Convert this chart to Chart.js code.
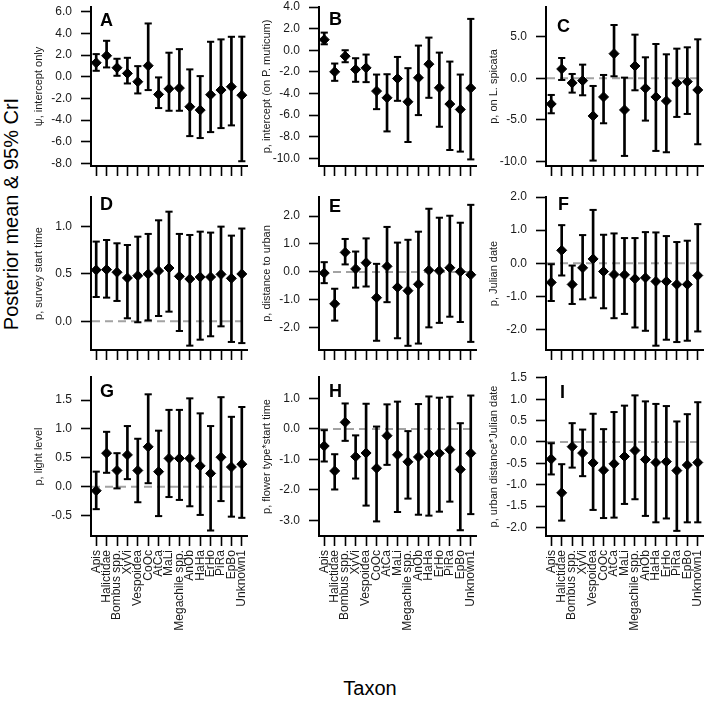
<!DOCTYPE html>
<html><head><meta charset="utf-8">
<script src="https://cdn.jsdelivr.net/npm/chart.js@4.4.1/dist/chart.umd.min.js"></script>
<style>
html,body{margin:0;padding:0;background:#fff;width:709px;height:710px;overflow:hidden;position:relative;}
canvas{position:absolute;}
.t{position:absolute;font-family:"Liberation Sans",Arial,sans-serif;color:#000;white-space:nowrap;line-height:1;}
</style></head><body>
<div class="t" style="font-size:20px;left:11px;top:214px;transform:translate(-50%,-50%) rotate(-90deg);">Posterior mean &amp; 95% CrI</div>
<div class="t" style="font-size:20px;left:370px;top:688px;transform:translate(-50%,-50%);">Taxon</div>
<script>
// ---------- data ----------
const taxa = ['Apis','Halictidae','Bombus spp.','XyVi','Vespoidea','CoOc','AtCa','MaLi','Megachile spp.','AnOb','HaHa','ErHo','PiRa','EpBo','Unknown1'];

const aMean = [1.29,1.94,0.83,0.31,-0.46,1.02,-1.63,-1.11,-1.05,-2.77,-3.08,-1.66,-1.23,-0.92,-1.70];
const aLow  = [0.55,0.86,0.09,-0.62,-1.54,-1.23,-2.89,-3.14,-3.14,-5.48,-5.66,-5.11,-4.74,-4.49,-7.80];
const aHigh = [2.09,3.32,1.66,1.75,0.98,4.92,-0.06,2.22,2.55,0.68,0.06,3.23,3.45,3.69,3.70];

const bMean = [0.98,-2.00,-0.55,-1.78,-1.63,-3.78,-4.40,-2.62,-4.77,-2.55,-1.29,-3.48,-4.98,-5.48,-3.50];
const bLow  = [0.55,-2.83,-1.11,-2.92,-2.95,-5.45,-7.51,-4.68,-8.49,-6.00,-4.40,-7.08,-9.23,-9.38,-10.10];
const bHigh = [1.63,-1.23,0.00,-0.74,-0.40,-2.25,-2.22,-0.62,-1.66,0.43,1.17,-0.22,-1.05,-2.25,2.90];

const cMean = [-3.08,1.12,-0.56,-0.28,-4.52,-2.24,2.96,-3.80,1.48,-1.20,-2.24,-2.72,-0.56,-0.40,-1.40];
const cLow  = [-4.20,-0.20,-1.72,-2.04,-9.88,-5.40,0.24,-9.32,-1.44,-5.08,-8.72,-8.88,-4.64,-4.28,-7.92];
const cHigh = [-2.00,2.44,0.52,1.64,-0.92,0.40,6.40,0.08,5.24,2.52,4.12,2.88,3.56,3.72,4.68];

const dMean = [0.542,0.546,0.518,0.458,0.482,0.500,0.532,0.563,0.475,0.447,0.468,0.468,0.496,0.454,0.500];
const dLow  = [0.257,0.250,0.215,0.032,-0.010,0.010,0.056,0.102,-0.102,-0.257,-0.194,-0.158,-0.053,-0.218,-0.230];
const dHigh = [0.842,0.859,0.824,0.806,0.894,0.923,1.067,1.158,0.923,0.912,0.947,0.937,1.000,0.905,0.980];

const eMean = [-0.04,-1.14,0.70,0.11,0.33,-0.92,0.20,-0.55,-0.67,-0.44,0.06,0.04,0.15,0.01,-0.10];
const eLow  = [-0.40,-1.74,0.27,-0.56,-0.52,-2.46,-1.08,-2.37,-2.64,-2.56,-1.98,-1.82,-1.60,-1.79,-2.50];
const eHigh = [0.35,-0.60,1.18,0.73,1.20,0.29,1.61,1.05,1.15,1.44,2.26,1.94,2.01,1.76,2.40];

const fMean = [-0.58,0.39,-0.64,-0.14,0.13,-0.25,-0.34,-0.35,-0.47,-0.44,-0.55,-0.55,-0.64,-0.64,-0.37];
const fLow  = [-1.14,-0.37,-1.23,-1.09,-1.04,-1.36,-1.66,-1.53,-1.94,-2.04,-2.49,-2.31,-2.38,-2.34,-2.06];
const fHigh = [-0.03,1.15,-0.07,0.85,1.61,0.86,0.90,0.76,0.76,0.94,0.93,0.82,0.64,0.68,1.18];

const gMean = [-0.07,0.58,0.28,0.55,0.28,0.69,0.26,0.49,0.49,0.49,0.36,0.23,0.51,0.34,0.39];
const gLow  = [-0.39,0.24,-0.03,0.13,-0.27,0.06,-0.51,-0.18,-0.23,-0.34,-0.49,-0.76,-0.25,-0.52,-0.54];
const gHigh = [0.26,0.95,0.58,1.05,0.83,1.60,0.97,1.33,1.33,1.53,1.27,1.05,1.55,1.21,1.38];

const hMean = [-0.56,-1.38,0.22,-0.91,-0.79,-1.29,-0.22,-0.85,-1.08,-0.92,-0.82,-0.80,-0.68,-1.33,-0.80];
const hLow  = [-1.07,-1.99,-0.39,-1.63,-2.52,-3.04,-1.18,-2.73,-2.29,-2.82,-2.85,-2.72,-2.39,-3.33,-2.80];
const hHigh = [-0.04,-0.83,0.84,-0.21,0.83,0.08,0.81,0.90,-0.07,0.82,1.07,1.03,1.06,0.19,1.10];

const iMean = [-0.40,-1.19,-0.11,-0.26,-0.49,-0.66,-0.51,-0.34,-0.20,-0.41,-0.48,-0.46,-0.67,-0.54,-0.48];
const iLow  = [-0.76,-1.84,-0.60,-0.80,-1.59,-1.78,-1.77,-1.45,-1.34,-1.73,-1.88,-1.79,-2.08,-1.88,-1.88];
const iHigh = [-0.03,-0.52,0.44,0.29,0.66,0.30,0.70,0.85,1.09,0.95,0.89,0.84,0.48,0.65,0.93];

const aTicks = [6,4,2,0,-2,-4,-6,-8];
const bTicks = [4,2,0,-2,-4,-6,-8,-10];
const cTicks = [5,0,-5,-10];
const dTicks = [1,0.5,0];
const eTicks = [2,1,0,-1,-2];
const fTicks = [2,1,0,-1,-2];
const gTicks = [1.5,1,0.5,0,-0.5];
const hTicks = [1,0,-1,-2,-3];
const iTicks = [1.5,1,0.5,0,-0.5,-1,-1.5,-2];

const yTitles = ['ψ, intercept only','p, intercept (on P. muticum)','p, on L. spicata',
  'p, survey start time','p, distance to urban','p, Julian date',
  'p, light level','p, flower type*start time','p, urban distance*Julian date'];
const letters = ['A','B','C','D','E','F','G','H','I'];

// ---------- layout / style ----------
Chart.defaults.font.family = '"Liberation Sans", Arial, sans-serif';
const cols = [{L:91,R:251},{L:319,R:480},{L:546,R:707}];
const rows = [{T:7,B:166},{T:197,B:350},{T:377,B:536}];
const panels = [
  {mean:aMean,low:aLow,high:aHigh,ticks:aTicks,min:-8.24,max:6.44,zero:false,lx:9,ly:19},
  {mean:bMean,low:bLow,high:bHigh,ticks:bTicks,min:-10.71,max:4.0,zero:false,lx:10,ly:18},
  {mean:cMean,low:cLow,high:cHigh,ticks:cTicks,min:-10.53,max:8.56,zero:true,lx:11,ly:25},
  {mean:dMean,low:dLow,high:dHigh,ticks:dTicks,min:-0.303,max:1.313,zero:true,lx:9,ly:13},
  {mean:eMean,low:eLow,high:eHigh,ticks:eTicks,min:-2.79,max:2.68,zero:true,lx:10,ly:15},
  {mean:fMean,low:fLow,high:fHigh,ticks:fTicks,min:-2.62,max:2.0,zero:true,lx:12,ly:13},
  {mean:gMean,low:gLow,high:gHigh,ticks:gTicks,min:-0.855,max:1.90,zero:true,lx:9,ly:20},
  {mean:hMean,low:hLow,high:hHigh,ticks:hTicks,min:-3.52,max:1.71,zero:true,lx:10,ly:20},
  {mean:iMean,low:iLow,high:iHigh,ticks:iTicks,min:-2.20,max:1.52,zero:true,lx:14,ly:21}
];

const zeroLinePlugin = {
  id:'zeroLine',
  beforeDatasetsDraw(chart, args, opts){
    if(!opts.show) return;
    const {ctx, chartArea, scales} = chart;
    const y = scales.y.getPixelForValue(0);
    ctx.save();
    ctx.strokeStyle = '#a3a3a3';
    ctx.lineWidth = 2;
    ctx.setLineDash([8,5]);
    ctx.beginPath();
    ctx.moveTo(chartArea.left + 1, y);
    ctx.lineTo(chartArea.right, y);
    ctx.stroke();
    ctx.restore();
  }
};
const letterPlugin = {
  id:'panelLetter',
  afterDraw(chart, args, opts){
    const {ctx, chartArea} = chart;
    ctx.save();
    ctx.font = 'bold 18px "Liberation Sans", Arial, sans-serif';
    ctx.fillStyle = '#000';
    ctx.textBaseline = 'alphabetic';
    ctx.fillText(opts.text, chartArea.left + opts.dx, chartArea.top + opts.dy);
    ctx.restore();
  }
};

panels.forEach((p, k) => {
  const ci = k % 3, ri = Math.floor(k / 3);
  const col = cols[ci], row = rows[ri];
  const bottomRow = ri === 2;
  const yW = 62, padTop = 9, padRight = 2;
  const xH = bottomRow ? 115 : 14;
  const left = col.L - yW, top = row.T - padTop;
  const width = col.R - left + padRight;
  const height = padTop + (row.B - row.T) + xH;
  const cv = document.createElement('canvas');
  cv.width = width; cv.height = height;
  cv.style.left = left + 'px'; cv.style.top = top + 'px';
  cv.style.width = width + 'px'; cv.style.height = height + 'px';
  document.body.appendChild(cv);

  new Chart(cv, {
    type:'bar',
    data:{
      labels: taxa,
      datasets:[
        {type:'line', data:p.mean, showLine:false, pointStyle:'rectRot', pointRadius:5,
         pointBackgroundColor:'#000', pointBorderColor:'#000', pointBorderWidth:1, order:0, clip:false},
        {type:'line', data:p.high, showLine:false, pointStyle:'line', pointRadius:3.6,
         pointBorderColor:'#000', pointBorderWidth:2, order:1, clip:false},
        {type:'line', data:p.low, showLine:false, pointStyle:'line', pointRadius:3.6,
         pointBorderColor:'#000', pointBorderWidth:2, order:1, clip:false},
        {type:'bar', data:p.low.map((l,i)=>[l, p.high[i]]), backgroundColor:'#000',
         barThickness:2, borderWidth:0, borderSkipped:false, order:2}
      ]
    },
    options:{
      responsive:false, animation:false, devicePixelRatio:1, events:[],
      layout:{padding:{left:0, top:padTop, right:padRight, bottom:0}},
      plugins:{
        legend:{display:false}, tooltip:{enabled:false},
        zeroLine:{show:p.zero},
        panelLetter:{text:letters[k], dx:p.lx, dy:p.ly}
      },
      scales:{
        x:{
          type:'category', offset:true,
          grid:{offset:false, drawOnChartArea:false, drawTicks:true, tickLength:10, tickColor:'#000', tickWidth:1.6},
          border:{display:true, color:'#000', width:2},
          ticks:{display:bottomRow, autoSkip:false, minRotation:90, maxRotation:90, padding:4,
                 color:'#1a1a1a', font:{size:12}},
          afterFit(s){ s.height = xH; s.paddingLeft = 0; s.paddingRight = 0; }
        },
        y:{
          type:'linear', min:p.min, max:p.max,
          afterBuildTicks(s){ s.ticks = p.ticks.map(v => ({value:v})); },
          grid:{drawOnChartArea:false, drawTicks:true, tickLength:10, tickColor:'#000', tickWidth:1.6},
          border:{display:true, color:'#000', width:2},
          ticks:{padding:9, color:'#1a1a1a', font:{size:12}, callback:v => Number(v).toFixed(1)},
          title:{display:true, text:yTitles[k], color:'#1a1a1a', font:{size:11}, padding:{top:3.4, bottom:0}},
          afterFit(s){ s.width = yW; s.paddingTop = 0; s.paddingBottom = 0; }
        }
      }
    },
    plugins:[zeroLinePlugin, letterPlugin]
  });
});
</script>
</body></html>
